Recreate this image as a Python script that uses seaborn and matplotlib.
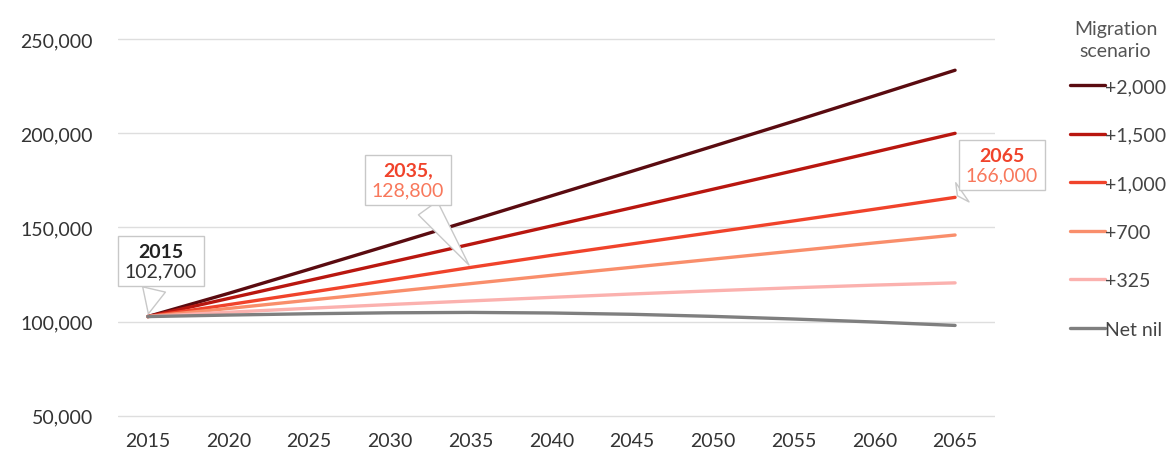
import pandas as pd
import numpy as np
import matplotlib.pyplot as plt
import seaborn as sns
from matplotlib.offsetbox import AnnotationBbox, TextArea, VPacker

sns.set_theme(style="white")
plt.rcParams['font.family'] = ['Lato', 'DejaVu Sans']

years = [2015, 2020, 2025, 2030, 2035, 2040, 2045, 2050, 2055, 2060, 2065]

# population projections per migration scenario
pop_2000 = [102700, 115000, 127800, 140700, 153700, 166800, 179900, 193100, 206400, 219900, 233500]
pop_1500 = [102700, 112300, 121900, 131500, 141100, 150800, 160500, 170300, 180100, 190000, 200000]
pop_1000 = [102700, 109000, 115500, 122100, 128800, 135200, 141300, 147400, 153500, 159700, 166000]
pop_700 = [102700, 107000, 111400, 115800, 120200, 124600, 128900, 133200, 137500, 141800, 146000]
pop_325 = [102700, 105000, 107100, 109100, 111000, 112900, 114700, 116400, 118000, 119400, 120600]
pop_nil = [102700, 103500, 104200, 104700, 104900, 104600, 103900, 102800, 101400, 99800, 98000]

scenarios = ['+2,000', '+1,500', '+1,000', '+700', '+325', 'Net nil']
colours = ['#5a0b10', '#b8160f', '#f0432b', '#f98e6b', '#fbb1ae', '#7f7f7f']
yticks = [50000, 100000, 150000, 200000, 250000]

df = pd.concat([
    pd.DataFrame({'year': years, 'pop': vals, 'scenario': name})
    for name, vals in zip(scenarios, [pop_2000, pop_1500, pop_1000, pop_700, pop_325, pop_nil])
])

fs = 14

fig = plt.figure(figsize=(11.67, 4.52), dpi=100)
ax = fig.add_axes([0.101, 0.057, 0.752, 0.875])

sns.lineplot(data=df, x='year', y='pop', hue='scenario', hue_order=scenarios,
             palette=dict(zip(scenarios, colours)), linewidth=2.4, ax=ax)

ax.set_xlim(2013.15, 2067.5)
ax.set_ylim(45000, 255000)
ax.set_xticks(years)
ax.set_yticks(yticks)
ax.set_yticklabels([f'{v:,}' for v in yticks])
ax.set_xlabel('')
ax.set_ylabel('')
ax.grid(axis='y', color='#dedede', lw=1)
ax.set_axisbelow(True)
for s in ax.spines.values():
    s.set_visible(False)
ax.tick_params(axis='y', length=0, pad=18, labelsize=fs, labelcolor='#333333')
ax.tick_params(axis='x', length=0, pad=5, labelsize=fs, labelcolor='#333333')

handles, labels = ax.get_legend_handles_labels()
ax.get_legend().remove()
leg = fig.legend(handles, labels, loc='upper left', bbox_to_anchor=(0.905, 0.855),
                 frameon=False, fontsize=fs, handlelength=1.8, handletextpad=0.0,
                 labelspacing=1.62, borderpad=0.2)
for t in leg.get_texts():
    t.set_color('#444444')
fig.text(0.956, 0.91, 'Migration\nscenario', ha='center', va='center',
         fontsize=fs, color='#555555', linespacing=1.35)

# call-out boxes
wedge = dict(arrowstyle='wedge,tail_width=1.1,shrink_factor=0.5', fc='white',
             ec='#c8c8c8', lw=1)

callouts = [
    (2015, 102700, 2015.8, 132200, '2015', '102,700', '#222222', '#333333'),
    (2035, 128800, 2031.1, 175200, '2035,', '128,800', '#f0432b', '#f8785c'),
    (2065, 166000, 2067.9, 183200, '2065', '166,000', '#f0432b', '#f8785c'),
]
for x, y, tx, ty, top, bottom, c1, c2 in callouts:
    pack = VPacker(children=[
        TextArea(top, textprops=dict(fontsize=fs, color=c1, fontweight='bold')),
        TextArea(bottom, textprops=dict(fontsize=fs, color=c2)),
    ], align='center', pad=0, sep=2)
    ab = AnnotationBbox(pack, (x, y), xybox=(tx, ty), boxcoords='data',
                        frameon=True, pad=0.45, arrowprops=wedge,
                        bboxprops=dict(boxstyle='square,pad=0.45', fc='white',
                                       ec='#c8c8c8', lw=1),
                        annotation_clip=False, zorder=5)
    ax.add_artist(ab)

fig.savefig('out.png', dpi=100)
